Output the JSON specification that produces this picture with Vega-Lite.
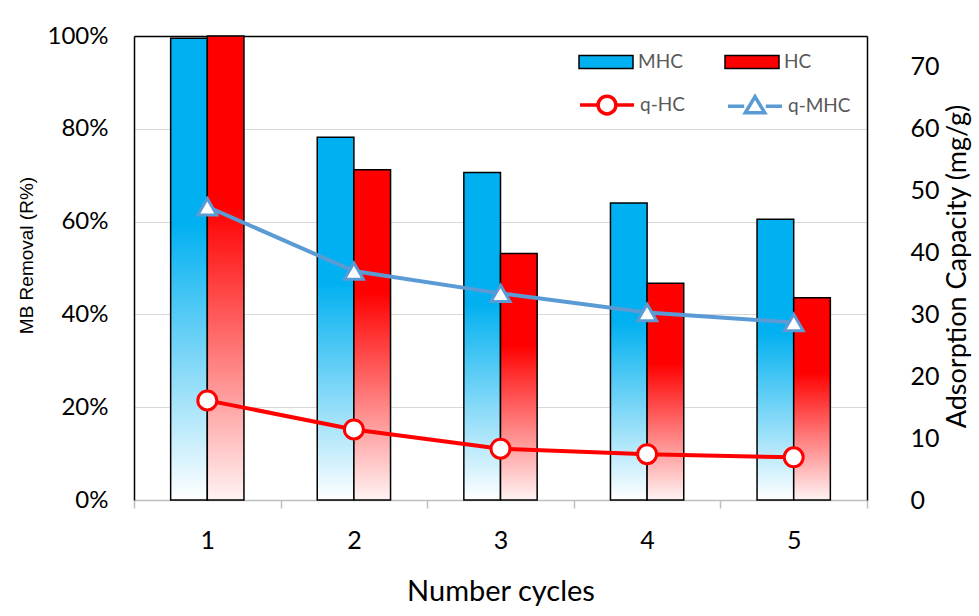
{
  "$schema": "https://vega.github.io/schema/vega-lite/v6.json",
  "width": 733,
  "height": 464,
  "autosize": "none",
  "padding": {"left": 134, "top": 36, "right": 112, "bottom": 116},
  "background": "white",
  "config": {
    "view": {"stroke": null},
    "font": "Lato",
    "axis": {"labelColor": "#000000", "titleColor": "#000000", "titleFontWeight": "normal", "labelFont": "Lato", "titleFont": "Lato"}
  },
  "datasets": {
    "bars": [
      {"cycle": 1, "series": "MHC", "removal": 0.995},
      {"cycle": 1, "series": "HC", "removal": 1.0},
      {"cycle": 2, "series": "MHC", "removal": 0.782},
      {"cycle": 2, "series": "HC", "removal": 0.712},
      {"cycle": 3, "series": "MHC", "removal": 0.706},
      {"cycle": 3, "series": "HC", "removal": 0.531},
      {"cycle": 4, "series": "MHC", "removal": 0.64},
      {"cycle": 4, "series": "HC", "removal": 0.467},
      {"cycle": 5, "series": "MHC", "removal": 0.605},
      {"cycle": 5, "series": "HC", "removal": 0.436}
    ],
    "caps": [
      {"cycle": 1, "series": "q-HC", "q": 16.1},
      {"cycle": 2, "series": "q-HC", "q": 11.4},
      {"cycle": 3, "series": "q-HC", "q": 8.3},
      {"cycle": 4, "series": "q-HC", "q": 7.4},
      {"cycle": 5, "series": "q-HC", "q": 6.9},
      {"cycle": 1, "series": "q-MHC", "q": 47.4},
      {"cycle": 2, "series": "q-MHC", "q": 37.0},
      {"cycle": 3, "series": "q-MHC", "q": 33.4},
      {"cycle": 4, "series": "q-MHC", "q": 30.3},
      {"cycle": 5, "series": "q-MHC", "q": 28.7}
    ]
  },
  "layer": [
    {
      "data": {"name": "bars"},
      "encoding": {
        "x": {
          "field": "cycle", "type": "ordinal",
          "scale": {"paddingInner": 0, "paddingOuter": 0},
          "axis": {
            "title": "Number cycles", "labelAngle": 0, "tickBand": "extent", "grid": false,
            "domainColor": "#bfbfbf", "domainWidth": 1.5, "tickColor": "#bfbfbf", "tickSize": 8, "tickWidth": 1.5,
            "labelFontSize": 25, "labelPadding": 20, "titleFontSize": 29, "titleY": 91, "titleBaseline": "middle"
          }
        },
        "xOffset": {"field": "series", "type": "nominal", "scale": {"domain": ["MHC", "HC"], "paddingInner": 0, "paddingOuter": 1.22}},
        "y": {
          "field": "removal", "type": "quantitative",
          "scale": {"domain": [0, 1], "nice": false},
          "axis": {
            "title": "MB Removal (R%)", "format": ".0%", "values": [0, 0.2, 0.4, 0.6, 0.8, 1],
            "ticks": false, "domainColor": "black", "domainWidth": 1.5, "labelFontSize": 24, "labelPadding": 26,
            "titleFontSize": 19, "titleFont": "Liberation Sans", "titleX": -102, "titleY": 219, "titleBaseline": "alphabetic",
            "grid": true,
            "gridColor": {"condition": {"test": "datum.value >= 0.999", "value": "black"}, "value": "#d9d9d9"},
            "gridWidth": {"condition": {"test": "datum.value >= 0.999", "value": 1.5}, "value": 1}
          }
        }
      },
      "layer": [
        {
          "transform": [{"filter": "datum.series === 'MHC'"}],
          "mark": {"type": "bar", "stroke": "black", "strokeWidth": 1.5, "fill": {"gradient": "linear", "x1": 0, "y1": 0, "x2": 0, "y2": 1, "stops": [{"offset": 0, "color": "#00B0F0"}, {"offset": 0.4, "color": "#00B0F0"}, {"offset": 1, "color": "#FFFFFF"}]}}
        },
        {
          "transform": [{"filter": "datum.series === 'HC'"}],
          "mark": {"type": "bar", "stroke": "black", "strokeWidth": 1.5, "fill": {"gradient": "linear", "x1": 0, "y1": 0, "x2": 0, "y2": 1, "stops": [{"offset": 0, "color": "#FF0000"}, {"offset": 0.37, "color": "#FF0000"}, {"offset": 1, "color": "#FFF3F3"}]}}
        },
        {
          "mark": {"type": "square", "opacity": 0},
          "encoding": {
            "fill": {
              "field": "series", "type": "nominal",
              "scale": {"domain": ["MHC", "HC"], "range": ["#00B0F0", "#FF0000"]},
              "legend": {
                "orient": "none", "legendX": 444, "legendY": -2, "direction": "horizontal", "columns": 2, "title": null,
                "padding": 0, "symbolType": "M-1,-0.24H1V0.24H-1Z", "symbolSize": 2916, "columnPadding": 39,
                "labelFontSize": 19, "labelColor": "#595959", "labelOffset": 4, "symbolOpacity": 1,
                "symbolStrokeColor": "black", "symbolStrokeWidth": 1.5,
                "encode": {"symbols": {"update": {
                  "stroke": {"value": "black"},
                  "strokeWidth": {"value": 1.5},
                  "opacity": {"value": 1},
                  "fill": {"signal": "datum.value === 'MHC' ? {id: 'legendGradMHC', gradient: 'linear', x1: 0, y1: 0, x2: 0, y2: 1, stops: [{offset: 0, color: '#8fdcf8'}, {offset: 0.6, color: '#00B0F0'}, {offset: 1, color: '#00B0F0'}]} : {id: 'legendGradHC', gradient: 'linear', x1: 0, y1: 0, x2: 0, y2: 1, stops: [{offset: 0, color: '#FFB8B8'}, {offset: 0.6, color: '#FF0000'}, {offset: 1, color: '#FF0000'}]}"}
                }}}
              }
            }
          }
        }
      ]
    },
    {
      "data": {"name": "caps"},
      "encoding": {
        "x": {"field": "cycle", "type": "ordinal"},
        "y": {
          "field": "q", "type": "quantitative",
          "scale": {"domain": [0, 75], "nice": false},
          "axis": {
            "orient": "right", "title": "Adsorption Capacity (mg/g)", "values": [0, 10, 20, 30, 40, 50, 60, 70],
            "ticks": false, "grid": false, "domainColor": "black", "domainWidth": 1.5, "labelFontSize": 25, "labelPadding": 43,
            "titleFontSize": 27, "titleAngle": -90, "titleBaseline": "top", "titleX": 77, "titleY": 230
          }
        },
        "stroke": {
          "field": "series", "type": "nominal",
          "scale": {"domain": ["q-HC", "q-MHC"], "range": ["#FF0000", "#5B9BD5"]},
          "legend": {
            "orient": "none", "legendX": 444, "legendY": 40, "direction": "horizontal", "columns": 2, "title": null,
            "padding": 0, "symbolSize": 2916, "columnPadding": 36,
            "labelFontSize": 19, "labelColor": "#595959", "labelOffset": 4, "symbolStrokeWidth": 3.5,
            "encode": {"symbols": {"update": {
              "shape": {"signal": "datum.value === 'q-HC' ? 'M-1,0H-0.33M0.33,0H1M-0.33,0A0.33,0.33,0,1,1,0.33,0A0.33,0.33,0,1,1,-0.33,0Z' : 'M-1,0H-0.4M0.4,0H1M0,-0.36L0.36,0.24L-0.36,0.24Z'"},
              "fill": {"value": "white"},
              "strokeWidth": {"value": 3.5},
              "opacity": {"value": 1}
            }}}
          }
        }
      },
      "layer": [
        {"mark": {"type": "line", "strokeWidth": 4}},
        {
          "mark": {"type": "point", "filled": true, "fill": "white", "strokeWidth": 3, "size": 360, "opacity": 1},
          "encoding": {
            "shape": {"field": "series", "type": "nominal", "scale": {"domain": ["q-HC", "q-MHC"], "range": ["circle", "triangle-up"]}, "legend": null}
          }
        }
      ]
    }
  ],
  "resolve": {"scale": {"y": "independent", "stroke": "independent"}, "legend": {"stroke": "independent"}}
}
